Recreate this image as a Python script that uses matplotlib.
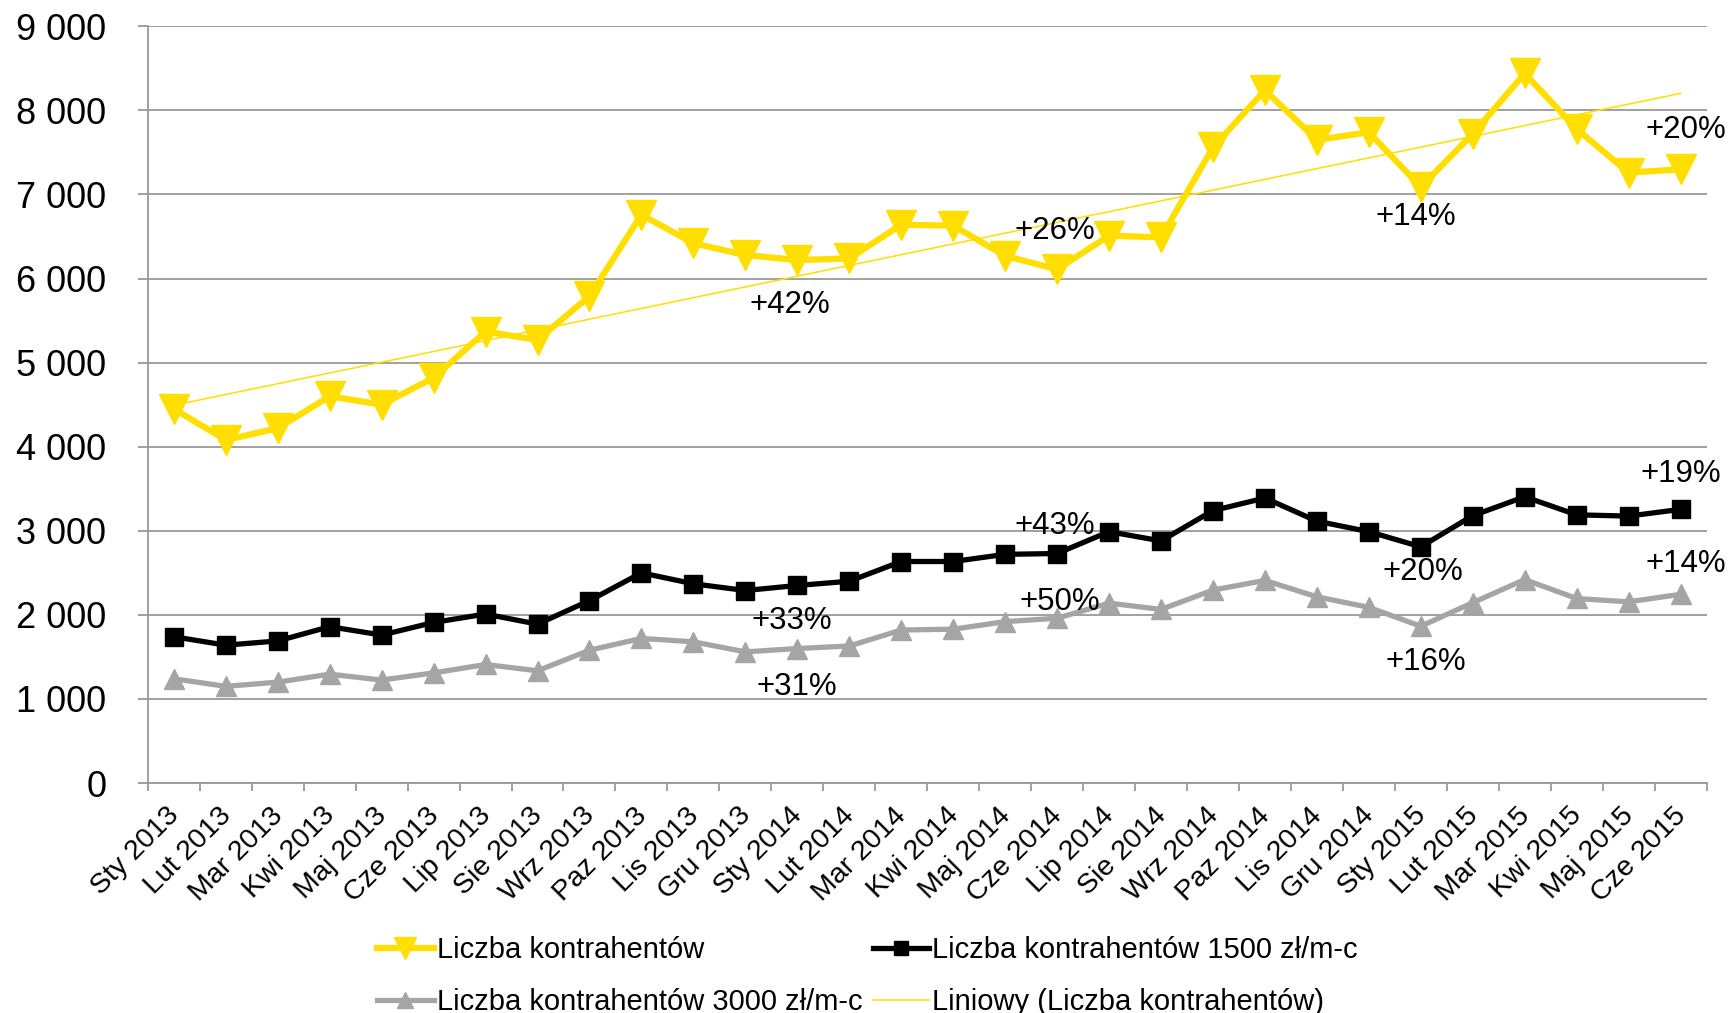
import numpy as np
import matplotlib
matplotlib.use('Agg')
import matplotlib.pyplot as plt
import matplotlib.transforms as mtransforms
from matplotlib.ticker import FuncFormatter

plt.rcParams['font.family'] = ['Liberation Sans', 'DejaVu Sans']

# months Jan 2013 - Jun 2015
months = ['Sty 2013', 'Lut 2013', 'Mar 2013', 'Kwi 2013', 'Maj 2013', 'Cze 2013',
          'Lip 2013', 'Sie 2013', 'Wrz 2013', 'Paz 2013', 'Lis 2013', 'Gru 2013',
          'Sty 2014', 'Lut 2014', 'Mar 2014', 'Kwi 2014', 'Maj 2014', 'Cze 2014',
          'Lip 2014', 'Sie 2014', 'Wrz 2014', 'Paz 2014', 'Lis 2014', 'Gru 2014',
          'Sty 2015', 'Lut 2015', 'Mar 2015', 'Kwi 2015', 'Maj 2015', 'Cze 2015']

# Liczba kontrahentow (all)
total = [4450, 4080, 4220, 4600, 4500, 4820, 5370, 5270, 5790, 6760,
         6420, 6280, 6220, 6240, 6640, 6630, 6270, 6110, 6510, 6490,
         7560, 8240, 7650, 7740, 7090, 7720, 8440, 7780, 7260, 7300]

# 1500 zl/m-c
k1500 = [1740, 1640, 1690, 1860, 1760, 1910, 2010, 1890, 2170, 2500,
         2370, 2290, 2350, 2400, 2635, 2635, 2720, 2730, 2990, 2880,
         3240, 3390, 3115, 2990, 2810, 3180, 3405, 3190, 3175, 3255]

# 3000 zl/m-c
k3000 = [1240, 1150, 1200, 1295, 1225, 1310, 1410, 1335, 1580, 1720,
         1680, 1560, 1600, 1630, 1820, 1830, 1920, 1960, 2140, 2065,
         2295, 2410, 2215, 2090, 1865, 2145, 2420, 2195, 2155, 2245]

# growth labels: text, category position, value position
notes = [('+42%', 11.85, 5680), ('+26%', 16.95, 6560), ('+14%', 23.9, 6730),
         ('+20%', 29.1, 7770), ('+19%', 29.0, 3680), ('+14%', 29.1, 2600),
         ('+43%', 16.95, 3060), ('+20%', 24.05, 2510), ('+50%', 17.05, 2150),
         ('+16%', 24.1, 1440), ('+33%', 11.9, 1930), ('+31%', 12.0, 1140)]

YELLOW = '#FFDE00'
GREY = '#A5A5A5'
AXIS = '#999999'

fig = plt.figure(figsize=(17.29, 10.13), dpi=100)
ax = fig.add_axes([0.0855, 0.227, 0.9015, 0.747])

l_tot, = ax.plot(months, total, color=YELLOW, lw=4.5, marker='v', ms=21,
                 mec=YELLOW, mfc=YELLOW, zorder=4)
l_1500, = ax.plot(months, k1500, color='black', lw=3.8, marker='s', ms=12.5,
                  zorder=4)
l_3000, = ax.plot(months, k3000, color=GREY, lw=3.8, marker='^', ms=15,
                  mec=GREY, mfc=GREY, zorder=3)

# linear trend, like excel's "Liniowy"
idx = np.arange(len(total))
a, b = np.polyfit(idx, total, 1)
l_trend, = ax.plot(idx, a * idx + b, color=YELLOW, lw=1.1, zorder=5)

for txt, x, y in notes:
    ax.text(x, y, txt, fontsize=22.5, ha='center', va='center', zorder=6)

ax.set_xlim(-0.5, len(months) - 0.5)
ax.set_ylim(0, 9000)
ax.set_yticks(np.arange(0, 9001, 1000))
ax.yaxis.set_major_formatter(FuncFormatter(lambda v, p: '{:,.0f}'.format(v).replace(',', ' ')))
ax.grid(axis='y', color=AXIS, lw=1.3)
ax.set_axisbelow(True)

for s in ['top', 'right']:
    ax.spines[s].set_visible(False)
for s in ['left', 'bottom']:
    ax.spines[s].set_color(AXIS)
    ax.spines[s].set_linewidth(1.3)

ax.tick_params(axis='y', length=7, width=1.3, color=AXIS, labelsize=26, pad=23)
ax.set_xticks(idx)
ax.set_xticks(np.arange(-0.5, len(months), 1), minor=True)
ax.tick_params(axis='x', which='major', length=0, labelsize=20.5, pad=14)
ax.tick_params(axis='x', which='minor', length=6, width=1.3, color=AXIS)
offset = mtransforms.ScaledTranslation(-8 / 100, 0, fig.dpi_scale_trans)
for lab in ax.get_xticklabels():
    lab.set_rotation(45)
    lab.set_ha('right')
    lab.set_va('top')
    lab.set_rotation_mode('anchor')
    lab.set_transform(lab.get_transform() + offset)

fig.legend([l_tot, l_3000, l_1500, l_trend],
           ['Liczba kontrahentów', 'Liczba kontrahentów 3000 zł/m-c',
            'Liczba kontrahentów 1500 zł/m-c', 'Liniowy (Liczba kontrahentów)'],
           ncol=2, loc='upper left', bbox_to_anchor=(0.218, 0.076),
           frameon=False, fontsize=21, handlelength=1.95, handletextpad=0.1,
           columnspacing=0.35, labelspacing=0.82, borderpad=0, borderaxespad=0,
           markerscale=0.75)

fig.savefig('out.png', dpi=100)
